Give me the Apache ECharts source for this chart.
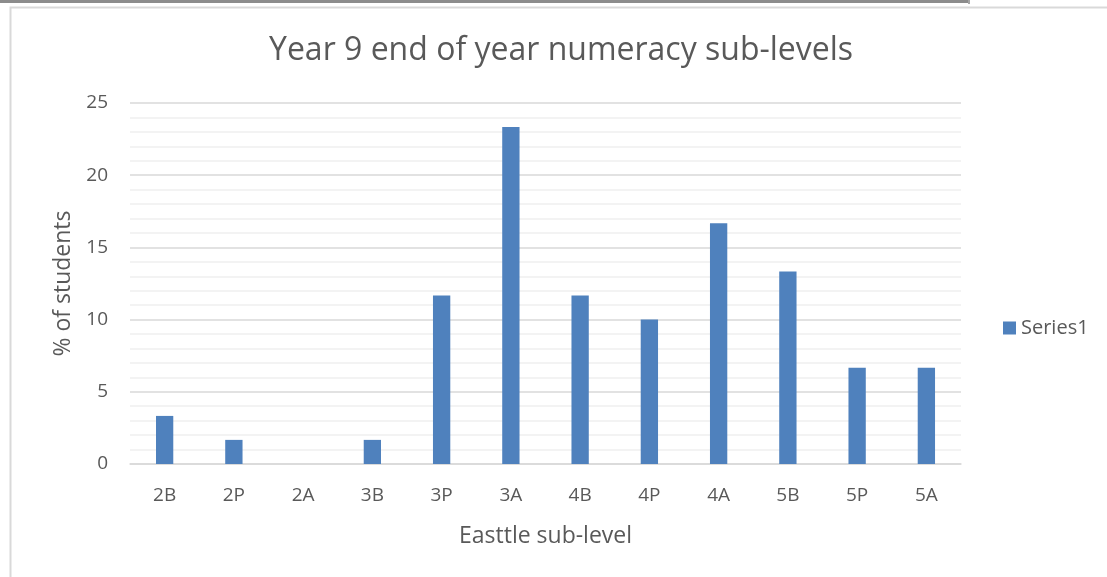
<!DOCTYPE html>
<html>
<head>
<meta charset="utf-8">
<script src="https://cdn.jsdelivr.net/npm/echarts@6/dist/echarts.min.js"></script>
<style>
  html, body { margin: 0; padding: 0; background: #ffffff; }
  #chart { width: 1107px; height: 577px; }
</style>
</head>
<body>
<div id="chart"></div>
<script>
// Sub-level categories along the x axis
const subLevels = ['2B', '2P', '2A', '3B', '3P', '3A', '4B', '4P', '4A', '5B', '5P', '5A'];
// Percentage of students at each sub-level
const percentStudents = [3.33, 1.67, 0, 1.67, 11.67, 23.33, 11.67, 10, 16.67, 13.33, 6.67, 6.67];
// Y axis range and step
const yMin = 0;
const yMax = 25;
const yStep = 5;

const textColor = '#595959';
const fontFamily = '"Open Sans", "Liberation Sans", sans-serif';

const chart = echarts.init(document.getElementById('chart'), null, { renderer: 'canvas' });

chart.setOption({
  backgroundColor: '#ffffff',
  animation: false,
  textStyle: { fontFamily: fontFamily, color: textColor },
  graphic: [
    // window strip along the top edge
    { type: 'rect', left: 0, top: 0, shape: { width: 970, height: 3 }, style: { fill: '#8c8c8c' }, z: 10 },
    { type: 'rect', left: 968, top: 0, shape: { width: 2, height: 4 }, style: { fill: '#a6a6a6' }, z: 10 },
    // chart area border
    { type: 'rect', left: 8, top: 5, shape: { width: 1110, height: 580 },
      style: { fill: 'none', stroke: '#d9d9d9', lineWidth: 2 }, z: 10 }
  ],
  title: {
    text: 'Year 9 end of year numeracy sub-levels',
    left: 264,
    top: 30,
    textStyle: { fontFamily: fontFamily, fontSize: 32, fontWeight: 'normal', color: textColor }
  },
  legend: {
    data: ['Series1'],
    orient: 'vertical',
    left: 998,
    top: 313,
    itemWidth: 13,
    itemHeight: 13,
    itemGap: 6,
    icon: 'rect',
    textStyle: { fontFamily: fontFamily, fontSize: 20, color: textColor }
  },
  grid: {
    left: 130,
    right: 146,
    top: 103,
    bottom: 113,
    containLabel: false
  },
  xAxis: {
    type: 'category',
    data: subLevels,
    name: 'Easttle sub-level',
    nameLocation: 'middle',
    nameGap: 61,
    nameTextStyle: { fontFamily: fontFamily, fontSize: 23, color: textColor },
    axisLine: { show: true, lineStyle: { color: '#d9d9d9', width: 1.5 } },
    axisTick: { show: false },
    axisLabel: { fontFamily: fontFamily, fontSize: 19, color: textColor, margin: 22 },
    splitLine: { show: false }
  },
  yAxis: {
    type: 'value',
    min: yMin,
    max: yMax,
    interval: yStep,
    name: '% of students',
    nameLocation: 'middle',
    nameGap: 54,
    nameRotate: 90,
    nameTextStyle: { fontFamily: fontFamily, fontSize: 23, color: textColor },
    axisLine: { show: false },
    axisTick: { show: false },
    axisLabel: { fontFamily: fontFamily, fontSize: 19, color: textColor, margin: 22 },
    splitLine: { show: true, lineStyle: { color: '#d9d9d9', width: 1.5 } },
    minorTick: { show: false, splitNumber: 5 },
    minorSplitLine: { show: true, lineStyle: { color: '#f0f0f0', width: 1.5 } }
  },
  series: [
    {
      name: 'Series1',
      type: 'bar',
      data: percentStudents,
      barCategoryGap: '75%',
      itemStyle: { color: '#4f81bd' },
      z: 3
    }
  ]
});
</script>
</body>
</html>
